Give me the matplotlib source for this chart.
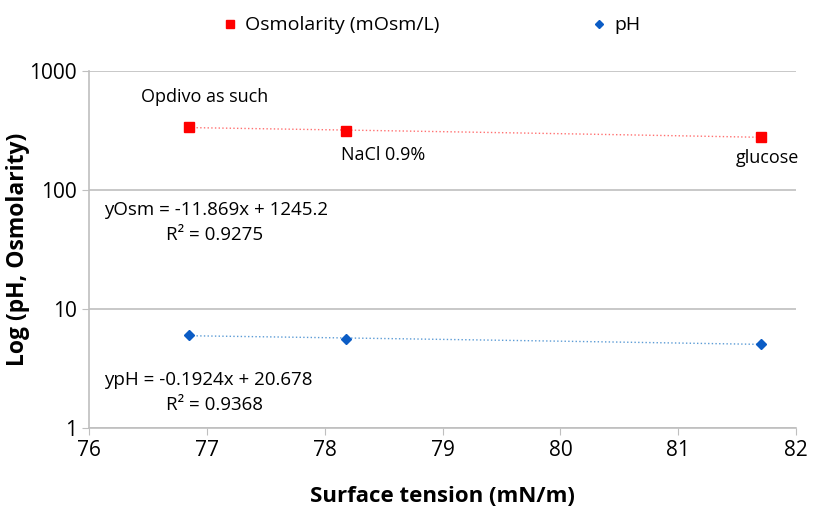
import matplotlib.pyplot as plt
import numpy as np

plt.rcParams['font.family'] = ['Open Sans', 'DejaVu Sans']

# surface tension (mN/m) for the three samples
samples = ['Opdivo as such', 'NaCl 0.9%', 'glucose']
tension = [76.85, 78.18, 81.70]
osmolarity = [339, 313, 279]
ph = [6.05, 5.6, 5.08]

osm_color = '#ff0000'
ph_color = '#0b5cc5'

fig = plt.figure(figsize=(8.14, 5.09), dpi=100)
ax = fig.add_axes([0.1093, 0.159, 0.8687, 0.7015])

h1, = ax.plot(tension, osmolarity, 's', color=osm_color, markersize=7,
              linestyle='none', label='Osmolarity (mOsm/L)')
h2, = ax.plot(tension, ph, 'D', color=ph_color, markersize=5.5,
              linestyle='none', label='pH')

# linear trendlines (fit in linear space, shown on log axis)
xs = np.linspace(tension[0], tension[-1], 50)
k, b = np.polyfit(tension, osmolarity, 1)
ax.plot(xs, k * xs + b, ':', color='#ff7070', linewidth=1.0, zorder=1)
k, b = np.polyfit(tension, ph, 1)
ax.plot(xs, k * xs + b, ':', color='#5b9bd5', linewidth=1.0, zorder=1)

ax.set_yscale('log')
ax.set_ylim(1, 1000)
ax.set_xlim(76, 82)
ax.set_yticks([1, 10, 100, 1000])
ax.set_yticklabels(['1', '10', '100', '1000'])
ax.minorticks_off()
ax.set_xticks(range(76, 83))
ax.grid(axis='y', color='#bfbfbf', linewidth=1.2)
ax.set_axisbelow(True)
for s in ['top', 'right']:
    ax.spines[s].set_visible(False)
for s in ['left', 'bottom']:
    ax.spines[s].set_color('#bfbfbf')
    ax.spines[s].set_linewidth(1.2)
ax.tick_params(axis='both', labelsize=15, color='#bfbfbf', length=5)

ax.set_xlabel('Surface tension (mN/m)', fontsize=16, fontweight='bold', labelpad=18)
ax.set_ylabel('Log (pH, Osmolarity)', fontsize=16.5, fontweight='bold', labelpad=0)

# point labels
offsets = [(11.5, 21.6), (26.6, -17), (5, -15)]
for name, x, y, off in zip(samples, tension, osmolarity, offsets):
    ax.annotate(name, (x, y), xytext=off, textcoords='offset points',
                ha='center', va='center', fontsize=13)

# trendline equations
ax.text(0.0215, 0.61, 'yOsm = -11.869x + 1245.2', transform=ax.transAxes,
        fontsize=13.5, va='center')
ax.text(0.109, 0.541, 'R² = 0.9275', transform=ax.transAxes,
        fontsize=13.5, va='center')
ax.text(0.0215, 0.134, 'ypH = -0.1924x + 20.678', transform=ax.transAxes,
        fontsize=13.5, va='center')
ax.text(0.109, 0.066, 'R² = 0.9368', transform=ax.transAxes,
        fontsize=13.5, va='center')

fig.legend(handles=[h1, h2], loc='center', bbox_to_anchor=(0.531, 0.95),
           ncol=2, frameon=False, fontsize=14, columnspacing=7.9,
           handlelength=0.6, handletextpad=0.5, markerscale=0.75)

fig.savefig('out.png', dpi=100)
